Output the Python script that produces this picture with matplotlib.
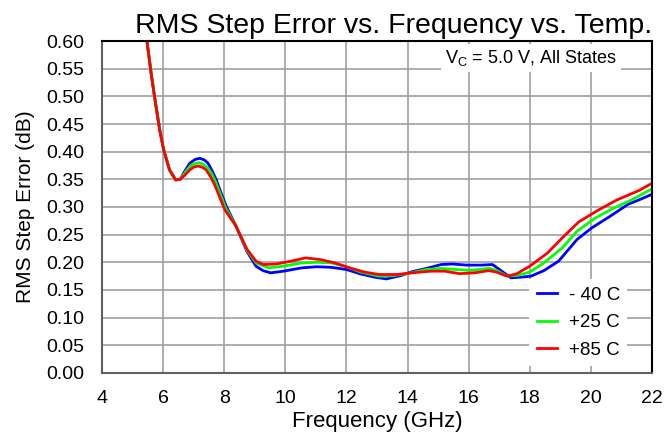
import numpy as np
import matplotlib
matplotlib.use("Agg")
import matplotlib.pyplot as plt

plt.rcParams['font.family'] = ['Liberation Sans', 'DejaVu Sans']

# shared start of all three curves (GHz, dB)
f_start = [5.47, 5.61, 5.72, 5.89, 6.02, 6.21, 6.41, 6.56]
v_start = [0.60, 0.541, 0.499, 0.439, 0.403, 0.367, 0.349, 0.350]

# -40 C
f_cold = [6.7, 6.87, 7.05, 7.2, 7.35, 7.47, 7.6, 7.74, 7.9, 8.07, 8.38, 8.74, 9.04, 9.27,
          9.52, 9.94, 10.54, 11.02, 11.5, 12.0, 12.46, 12.94, 13.3, 13.78, 14.14, 14.62,
          15.1, 15.46, 15.94, 16.42, 16.78, 17.08, 17.38, 17.68, 18.04, 18.46, 18.94, 19.54,
          20.02, 20.62, 21.22, 21.58, 22.0]
v_cold = [0.364, 0.379, 0.386, 0.388, 0.385, 0.379, 0.366, 0.349, 0.325, 0.301, 0.266, 0.22,
          0.193, 0.185, 0.181, 0.184, 0.190, 0.192, 0.191, 0.187, 0.179, 0.173, 0.170, 0.176,
          0.183, 0.189, 0.196, 0.197, 0.195, 0.195, 0.196, 0.184, 0.172, 0.173, 0.175, 0.185,
          0.202, 0.241, 0.262, 0.283, 0.305, 0.313, 0.323]

# +25 C
f_room = [6.7, 6.87, 7.02, 7.17, 7.32, 7.47, 7.6, 7.72, 7.88, 8.05, 8.38, 8.74, 9.04, 9.46,
          9.94, 10.54, 11.02, 11.5, 12.0, 12.46, 13.06, 13.54, 14.02, 14.62, 15.1, 15.58,
          16.06, 16.66, 16.9, 17.26, 17.62, 18.0, 18.46, 19.06, 19.54, 20.14, 20.74, 21.34,
          22.0]
v_room = [0.361, 0.373, 0.378, 0.380, 0.377, 0.370, 0.359, 0.345, 0.322, 0.298, 0.266, 0.222,
          0.199, 0.190, 0.193, 0.199, 0.200, 0.199, 0.192, 0.1825, 0.175, 0.176, 0.180, 0.187,
          0.189, 0.187, 0.1855, 0.189, 0.1855, 0.175, 0.1765, 0.1825, 0.199, 0.226, 0.256,
          0.280, 0.298, 0.313, 0.333]

# +85 C
f_hot = [6.7, 6.87, 7.0, 7.14, 7.28, 7.41, 7.55, 7.69, 7.85, 8.02, 8.38, 8.74, 9.04, 9.28,
         9.7, 10.18, 10.66, 11.14, 11.62, 12.1, 12.58, 13.06, 13.66, 14.14, 14.74, 15.22,
         15.7, 16.18, 16.66, 16.9, 17.26, 17.56, 18.0, 18.58, 19.06, 19.6, 20.26, 20.86,
         21.58, 22.0]
v_hot = [0.357, 0.367, 0.372, 0.374, 0.372, 0.367, 0.355, 0.340, 0.318, 0.295, 0.266, 0.224,
         0.202, 0.196, 0.197, 0.202, 0.208, 0.205, 0.199, 0.190, 0.1825, 0.178, 0.178, 0.181,
         0.184, 0.184, 0.1795, 0.181, 0.185, 0.1825, 0.175, 0.179, 0.193, 0.217, 0.244, 0.273,
         0.295, 0.313, 0.330, 0.343]

labels = ['- 40 C', '+25 C', '+85 C']
colors = ['#0000ff', '#00ff00', '#ff0000']

fig = plt.figure(figsize=(6.64, 4.34), dpi=100)
ax = fig.add_axes([0.1536, 0.1406, 0.8284, 0.7649])

series = [(f_cold, v_cold), (f_room, v_room), (f_hot, v_hot)]
for (f, v), lab, c in zip(series, labels, colors):
    ax.plot(f_start + f, v_start + v, color=c, lw=2.0, label=lab)

ax.set_xlim(4, 22)
ax.set_ylim(0, 0.6)
ax.set_xticks(np.arange(4, 23, 2))
ax.set_yticks(np.arange(0, 0.601, 0.05))
ax.set_yticklabels(['%.2f' % t for t in np.arange(0, 0.601, 0.05)])
ax.grid(True, color='#a0a0a0', lw=1.2)
ax.set_axisbelow(True)
ax.tick_params(length=0, labelsize=14)
ax.tick_params(axis='y', pad=13)
ax.tick_params(axis='x', pad=12)
for s in ax.spines.values():
    s.set_linewidth(1.5)
ax.spines['left'].set_color('#606060')
ax.spines['bottom'].set_color('#606060')

ax.set_xlabel('Frequency (GHz)', fontsize=16, labelpad=3)
ax.set_ylabel('RMS Step Error (dB)', fontsize=15, labelpad=8)
ax.set_title('RMS Step Error vs. Frequency vs. Temp.', fontsize=20.5, pad=6, x=0.531)

ax.text(0.936, 0.949, r'V$_\mathregular{C}$ = 5.0 V, All States', transform=ax.transAxes,
        ha='right', va='center', fontsize=13,
        bbox=dict(facecolor='white', edgecolor='none', pad=3))

leg = ax.legend(loc='lower right', fontsize=13.5, frameon=True, handlelength=1.1,
                bbox_to_anchor=(0.955, 0.02), labelspacing=0.55, handletextpad=0.6,
                borderaxespad=0.0)
leg.get_frame().set_edgecolor('none')
leg.get_frame().set_facecolor('white')
leg.get_frame().set_alpha(1)
leg.get_frame().set_boxstyle('square', pad=0.0)

fig.savefig('out.png', dpi=100)
